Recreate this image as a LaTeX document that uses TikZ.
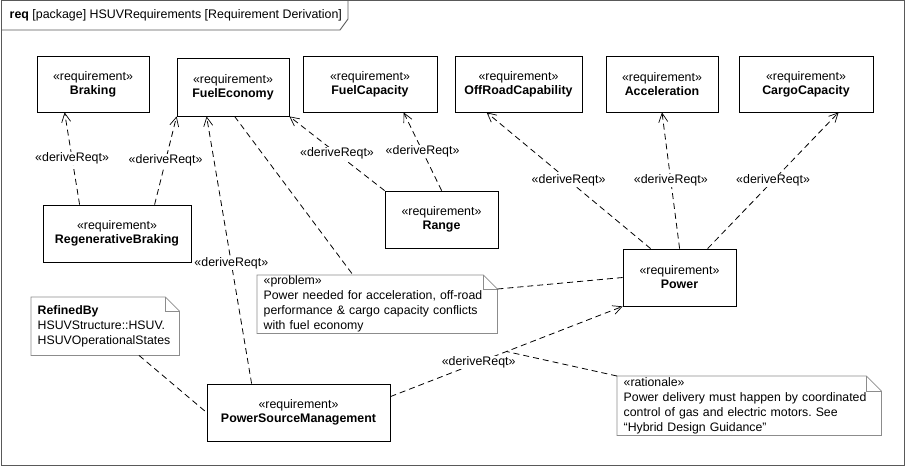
\documentclass[tikz,border=0pt]{standalone}
\usepackage{fontspec}
\setmainfont{Liberation Sans}
\usetikzlibrary{arrows.meta,calc}
\frenchspacing
\tikzset{
  txt/.style={font=\fontsize{12.4}{14}\selectfont},
  req/.style={txt, draw=black, line width=0.8pt, fill=white, align=center, inner sep=0pt},
  dline/.style={draw=black, line width=0.8pt, dash pattern=on 6pt off 4pt},
  derive/.style={dline, -{Straight Barb[length=9pt,width=9pt,line width=0.7pt]}},
  lbl/.style={txt, fill=white, inner sep=1pt},
  notebox/.style={font=\fontsize{12.3}{15}\selectfont, align=left, inner xsep=6.5pt, inner ysep=0pt, anchor=north west},
  noteline/.style={draw=black!45, line width=0.8pt},
  framestyle/.style={draw=black!65, line width=0.9pt}
}
\begin{document}
\begin{tikzpicture}[x=1pt,y=-1pt]
\useasboundingbox (0,0) rectangle (905,467);
% frame
\draw[framestyle] (1.5,0.5) rectangle (904,465.5);
\draw[framestyle] (1.5,30) -- (340,30) -- (348,19) -- (348,0.5);
\node[txt, anchor=west, inner sep=0pt] (title) at (9.5,15.5) {\textbf{req} [package] HSUVRequirements [Requirement Derivation]};

% requirements
\node[req, minimum width=112, minimum height=56] (brk) at (93,84) {«requirement»\\\textbf{Braking}};
\node[req, minimum width=112, minimum height=58] (fe) at (233,87) {«requirement»\\\textbf{FuelEconomy}};
\node[req, minimum width=134, minimum height=56] (fc) at (370,84) {«requirement»\\\textbf{FuelCapacity}};
\node[req, minimum width=127, minimum height=56] (orc) at (518.5,84) {«requirement»\\\textbf{OffRoadCapability}};
\node[req, minimum width=112, minimum height=56] (acc) at (662,84) {«requirement»\\\textbf{Acceleration}};
\node[req, minimum width=134, minimum height=56] (cargo) at (806,84) {«requirement»\\\textbf{CargoCapacity}};
\node[req, minimum width=148, minimum height=57] (reg) at (117,233.5) {«requirement»\\\textbf{RegenerativeBraking}};
\node[req, minimum width=113, minimum height=57] (rng) at (441.5,219.5) {«requirement»\\\textbf{Range}};
\node[req, minimum width=113, minimum height=57] (pow) at (679.5,277.5) {«requirement»\\\textbf{Power}};
\node[req, minimum width=183, minimum height=57] (psm) at (298.5,412.5) {«requirement»\\\textbf{PowerSourceManagement}};

% notes
\node[notebox, minimum width=148, minimum height=58, text width=135] (refd) at (31,297) {\textbf{RefinedBy}\\HSUVStructure::HSUV.\\HSUVOperationalStates};
\node[notebox, minimum width=240, minimum height=58, text width=227] (prob) at (257,275) {«problem»\\Power needed for acceleration, off-road\\performance \& cargo capacity conflicts\\with fuel economy};
\node[notebox, minimum width=264, minimum height=59, text width=251] (rat) at (617,376) {«rationale»\\Power delivery must happen by coordinated\\control of gas and electric motors. See\\“Hybrid Design Guidance”};
\foreach \n/\f in {refd/14,prob/14,rat/15}{
  \draw[noteline] (\n.north west) -- ($(\n.north east)+(-\f,0)$) -- ($(\n.north east)+(0,\f)$) -- (\n.south east) -- (\n.south west) -- cycle;
  \draw[noteline, line width=0.6pt] ($(\n.north east)+(-\f,0)$) -- ($(\n.north east)+(-\f,\f)$) -- ($(\n.north east)+(0,\f)$);
}

% derive connectors
\draw[derive] ($(reg.north west)+(37,0)$) -- node[lbl, pos=0.5] (l1) {«deriveReqt»} ($(brk.south west)+(28,0)$);
\draw[derive] ($(reg.north west)+(112,0)$) -- node[lbl, pos=0.5] (l2) {«deriveReqt»} (fe.south west);
\draw[derive] ($(psm.north west)+(45,0)$) -- node[lbl, pos=0.45] (l3) {«deriveReqt»} ($(fe.south west)+(30,0)$);
\draw[derive] (rng.north west) -- node[lbl, pos=0.5] (l5) {«deriveReqt»} (fe.south east);
\draw[derive] ($(rng.north west)+(57,0)$) -- node[lbl, pos=0.5] (l6) {«deriveReqt»} ($(fc.south west)+(101,0)$);
\draw[derive] ($(pow.north west)+(28,0)$) -- node[lbl, pos=0.5] (l7) {«deriveReqt»} ($(orc.south west)+(32,0)$);
\draw[derive] ($(pow.north west)+(57,0)$) -- node[lbl, pos=0.5] (l8) {«deriveReqt»} (acc.south);
\draw[derive] ($(pow.north west)+(85,0)$) -- node[lbl, pos=0.5] (l9) {«deriveReqt»} ($(cargo.south west)+(100,0)$);
\draw[derive] ($(psm.north east)+(0,13)$) -- coordinate[pos=0.5] (mid) node[lbl, pos=0.38] (l11) {«deriveReqt»} (pow.south west);

% note anchors
\draw[dline] ($(fe.south west)+(58,0)$) -- ($(prob.north west)+(96,0)$);
\draw[dline] ($(prob.north east)+(0,14)$) -- (pow.west);
\draw[dline] (rat.north west) -- (mid);
\draw[dline] ($(refd.south west)+(108,0)$) -- (psm.west);
\end{tikzpicture}
\end{document}
